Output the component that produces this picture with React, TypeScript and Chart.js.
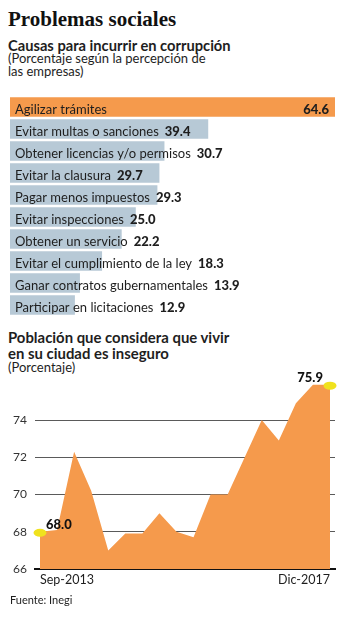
import React, { useEffect, useRef } from "react";
import { Chart, registerables } from "chart.js";

Chart.register(...registerables);

const causas = [
  "Agilizar trámites",
  "Evitar multas o sanciones",
  "Obtener licencias y/o permisos",
  "Evitar la clausura",
  "Pagar menos impuestos",
  "Evitar inspecciones",
  "Obtener un servicio",
  "Evitar el cumplimiento de la ley",
  "Ganar contratos gubernamentales",
  "Participar en licitaciones",
];
const causasValores = [64.6, 39.4, 30.7, 29.7, 29.3, 25.0, 22.2, 18.3, 13.9, 12.9];

const periodos = [
  "Sep-2013", "Dic-2013", "Mar-2014", "Jun-2014", "Sep-2014", "Dic-2014",
  "Mar-2015", "Jun-2015", "Sep-2015", "Dic-2015", "Mar-2016", "Jun-2016",
  "Sep-2016", "Dic-2016", "Mar-2017", "Jun-2017", "Sep-2017", "Dic-2017",
];
const inseguridad = [68.0, 68.1, 72.3, 70.2, 67.0, 67.9, 67.9, 69.0, 68.0, 67.7, 70.0, 70.0, 72.0, 74.0, 72.9, 74.9, 75.9, 75.9];
const yTicks = [66, 68, 70, 72, 74];

const ORANGE = "#F59A4C";
const GREY = "#B7C9D6";
const TEXT = "#1e1e1e";
const SANS = "Lato, 'Open Sans', sans-serif";

function BarChart() {
  const ref = useRef<HTMLCanvasElement>(null);
  useEffect(() => {
    const labelPlugin = {
      id: "barLabels",
      afterDatasetsDraw(chart: any) {
        const ctx = chart.ctx;
        const meta = chart.getDatasetMeta(0);
        const left = chart.chartArea.left + 5;
        ctx.save();
        ctx.textBaseline = "alphabetic";
        meta.data.forEach((el: any, i: number) => {
          const y = el.y + 7;
          ctx.font = `400 13px ${SANS}`;
          ctx.fillStyle = TEXT;
          ctx.textAlign = "left";
          ctx.fillText(causas[i], left, y);
          const w = ctx.measureText(causas[i]).width;
          ctx.font = `900 13px ${SANS}`;
          const val = causasValores[i].toFixed(1);
          if (i === 0) {
            ctx.textAlign = "right";
            ctx.fillText(val, el.x - 6, y);
          } else {
            ctx.fillText(val, left + w + 6, y);
          }
        });
        ctx.restore();
      },
    };
    const chart = new Chart(ref.current!, {
      type: "bar",
      data: {
        labels: causas,
        datasets: [
          {
            data: causasValores,
            backgroundColor: causasValores.map((_, i) => (i === 0 ? ORANGE : GREY)),
            borderWidth: 0,
            categoryPercentage: 1,
            barPercentage: 0.88,
          },
        ],
      },
      options: {
        indexAxis: "y",
        responsive: false,
        animation: false,
        layout: { padding: { left: 10, right: 9, top: 0, bottom: 0 } },
        plugins: { legend: { display: false }, tooltip: { enabled: false } },
        scales: {
          x: { display: false, min: 0, max: 64.6 },
          y: { display: false },
        },
      },
      plugins: [labelPlugin],
    });
    return () => chart.destroy();
  }, []);
  return <canvas ref={ref} width={344} height={220} style={{ position: "absolute", left: 0, top: 96 }} />;
}

function AreaChart() {
  const ref = useRef<HTMLCanvasElement>(null);
  useEffect(() => {
    const endPlugin = {
      id: "endLabels",
      afterDatasetsDraw(chart: any) {
        const ctx = chart.ctx;
        const meta = chart.getDatasetMeta(0);
        const first = meta.data[0];
        const last = meta.data[meta.data.length - 1];
        ctx.save();
        ctx.fillStyle = "#F0E21E";
        [first, last].forEach((p: any) => {
          ctx.beginPath();
          ctx.ellipse(p.x, p.y + 1, 6.5, 4, 0, 0, Math.PI * 2);
          ctx.fill();
        });
        ctx.fillStyle = "#111";
        ctx.font = `900 13px ${SANS}`;
        ctx.textBaseline = "alphabetic";
        ctx.textAlign = "left";
        ctx.fillText(inseguridad[0].toFixed(1), first.x + 6, first.y - 3);
        ctx.textAlign = "right";
        ctx.fillText(inseguridad[inseguridad.length - 1].toFixed(1), last.x - 7, last.y - 3);
        ctx.restore();
      },
    };
    const chart = new Chart(ref.current!, {
      type: "line",
      data: {
        datasets: [
          {
            data: inseguridad.map((v, i) => ({ x: i, y: v })),
            backgroundColor: ORANGE,
            borderWidth: 0,
            fill: "start",
            pointRadius: 0,
            tension: 0,
          },
        ],
      },
      options: {
        responsive: false,
        animation: false,
        layout: { padding: { left: 0, right: 9, top: 14, bottom: 0 } },
        plugins: { legend: { display: false }, tooltip: { enabled: false } },
        scales: {
          x: {
            type: "linear",
            min: -0.293,
            max: periodos.length - 1 + 0.293,
            z: 1,
            grid: { display: false, drawTicks: false },
            border: { display: true, color: "#111", width: 2 },
            afterBuildTicks: (s: any) => {
              s.ticks = [{ value: 0 }, { value: periodos.length - 1 }];
            },
            afterFit: (s: any) => {
              s.height = 25;
            },
            ticks: {
              align: "inner",
              maxRotation: 0,
              autoSkip: false,
              padding: 3,
              color: TEXT,
              font: { family: SANS, size: 12.5 },
              callback: (v: any) => periodos[v as number] ?? "",
            },
          },
          y: {
            min: 66,
            max: 76.3,
            afterBuildTicks: (s: any) => {
              s.ticks = yTicks.map((v) => ({ value: v }));
            },
            afterFit: (s: any) => {
              s.width = 35;
            },
            grid: { color: "#5a5a5a", lineWidth: 1, drawTicks: false },
            border: { display: false },
            ticks: {
              padding: 8,
              color: "#333",
              font: { family: SANS, size: 12 },
            },
          },
        },
      },
      plugins: [endPlugin],
    });
    return () => chart.destroy();
  }, []);
  return <canvas ref={ref} width={344} height={232} style={{ position: "absolute", left: 0, top: 362 }} />;
}

export default function App() {
  const abs = (top: number, extra: any = {}) => ({
    position: "absolute" as const,
    left: 8,
    top,
    margin: 0,
    whiteSpace: "nowrap" as const,
    color: TEXT,
    ...extra,
  });
  return (
    <div style={{ position: "absolute", left: 0, top: 0, width: 344, height: 620, background: "#fff", overflow: "hidden" }}>
      <div style={abs(7, { fontFamily: "'Liberation Serif', serif", fontWeight: 700, fontSize: 21, lineHeight: "24px", color: "#111" })}>
        Problemas sociales
      </div>
      <div style={abs(37, { fontFamily: SANS, fontWeight: 700, fontSize: 14.7, lineHeight: "16px" })}>
        Causas para incurrir en corrupción
      </div>
      <div style={abs(52, { fontFamily: SANS, fontWeight: 400, fontSize: 13, lineHeight: "13px" })}>
        (Porcentaje según la percepción de
        <br />
        las empresas)
      </div>
      <BarChart />
      <div style={abs(329, { fontFamily: SANS, fontWeight: 700, fontSize: 14.9, lineHeight: "16px" })}>
        Población que considera que vivir
        <br />
        en su ciudad es inseguro
      </div>
      <div style={abs(360, { fontFamily: SANS, fontWeight: 400, fontSize: 13, lineHeight: "14px" })}>
        (Porcentaje)
      </div>
      <AreaChart />
      <div style={abs(593, { left: 10, fontFamily: SANS, fontWeight: 400, fontSize: 11, lineHeight: "13px" })}>
        Fuente: Inegi
      </div>
    </div>
  );
}
